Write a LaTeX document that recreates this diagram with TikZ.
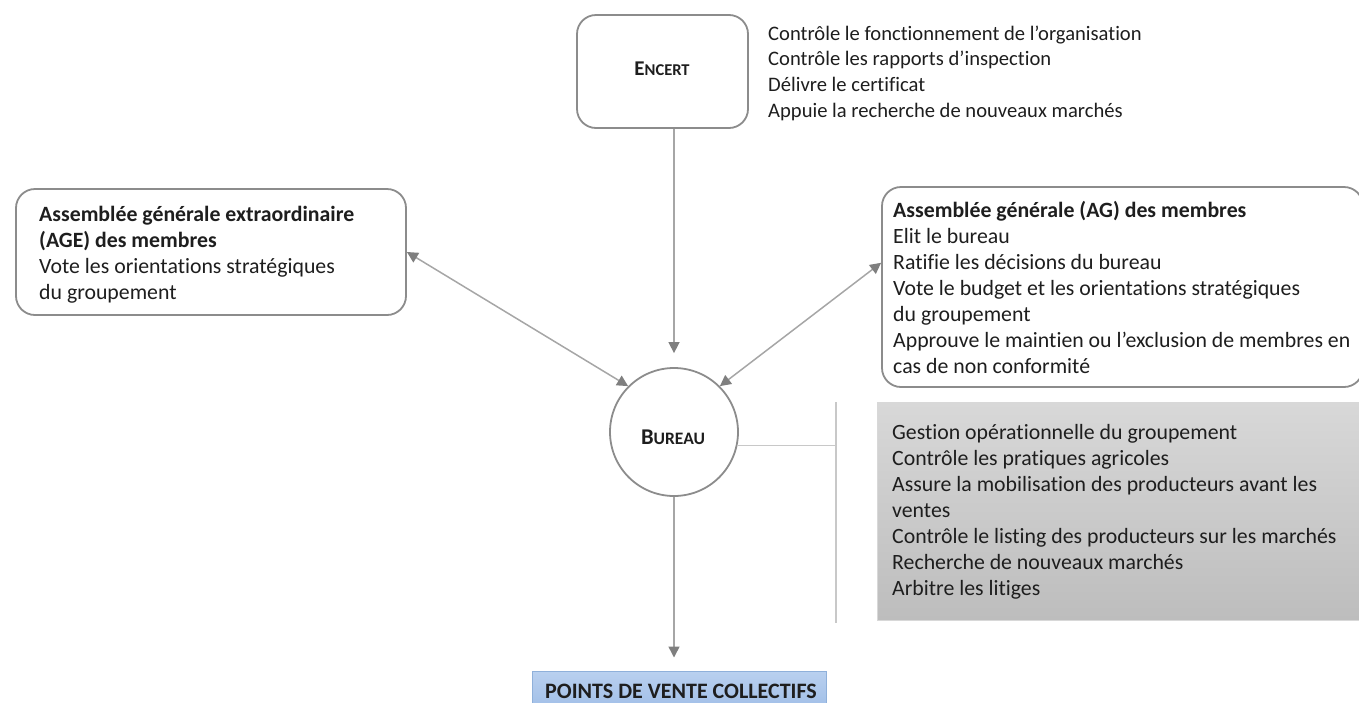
\documentclass[tikz,border=0pt]{standalone}
\usepackage{fontspec}
\setmainfont{Carlito}[Ligatures={NoCommon}]
\usetikzlibrary{arrows.meta,calc}
\definecolor{boxline}{HTML}{8C8C8C}
\definecolor{linegray}{HTML}{A6A6A6}
\definecolor{tipgray}{HTML}{7F7F7F}
\definecolor{sepgray}{HTML}{C8C8C8}
\definecolor{txt}{HTML}{1E1E1E}
\definecolor{graytop}{HTML}{D8D8D8}
\definecolor{graybot}{HTML}{BDBDBD}
\definecolor{bluetop}{HTML}{B9D0EF}
\definecolor{bluebot}{HTML}{9DBCE6}
\definecolor{blueline}{HTML}{8FB0DA}
\begin{document}
\begin{tikzpicture}[x=1pt,y=-1pt,
  rbox/.style={draw=boxline, line width=1.8pt, rounded corners=19pt, fill=white, inner sep=0pt},
  listtext/.style={anchor=north west, inner sep=0pt, align=left, text=txt, font=\fontsize{21.8}{26}\selectfont},
  conn/.style={draw=linegray, line width=1.5pt},
  tipa/.tip={Triangle[length=11pt,width=11pt,color=tipgray]},
  sepline/.style={draw=sepgray, line width=1.5pt}]
\useasboundingbox (0,0) rectangle (1359,702);

% boxes
\node[rbox, minimum width=171pt, minimum height=113pt] (encert) at (662.5,71.5) {};
\node[rbox, minimum width=390pt, minimum height=126pt] (age) at (211,252) {};
\node[rbox, minimum width=481pt, minimum height=200pt] (ag) at (1122.5,287) {};
\node[draw=boxline, line width=1.8pt, circle, fill=white, minimum size=128pt, inner sep=0pt] (bureau) at (674,432) {};
\node[inner sep=0pt, minimum width=488pt, minimum height=218pt, top color=graytop, bottom color=graybot, draw=graytop, line width=0.8pt] (gest) at (1121,511) {};
\node[inner sep=0pt, minimum width=294pt, minimum height=44pt, top color=bluetop, bottom color=bluebot, draw=blueline, line width=1pt] (points) at (679,693) {};

% labels
\node[anchor=base, inner sep=0pt, text=txt] (encertlbl) at (662,75)
  {\bfseries\fontsize{21}{24}\selectfont E\fontsize{16.5}{19}\selectfont NCERT};
\node[anchor=base, inner sep=0pt, text=txt] (bureaulbl) at (673,444)
  {\bfseries\fontsize{22.5}{26}\selectfont B\fontsize{17.5}{20}\selectfont UREAU};
\node[anchor=base, inner sep=0pt, text=txt] (pointslbl) at (681,698)
  {\bfseries\fontsize{22}{26}\selectfont POINTS DE VENTE COLLECTIFS};

\node[listtext, font=\fontsize{20.6}{25.7}\selectfont] (encertlist) at (768,22)
  {\strut Contrôle le fonctionnement de l’organisation\\
   Contrôle les rapports d’inspection\\
   Délivre le certificat\\
   Appuie la recherche de nouveaux marchés};
\node[listtext] (agetext) at (39,202.8)
  {\strut\textbf{Assemblée générale extraordinaire}\\
   \textbf{(AGE) des membres}\\
   Vote les orientations stratégiques\\
   du groupement};
\node[listtext] (agtext) at (893,198.8)
  {\strut\textbf{Assemblée générale (AG) des membres}\\
   Elit le bureau\\
   Ratifie les décisions du bureau\\
   Vote le budget et les orientations stratégiques\\
   du groupement\\
   Approuve le maintien ou l’exclusion de membres en\\
   cas de non conformité};
\node[listtext] (gesttext) at (892,420.8)
  {\strut Gestion opérationnelle du groupement\\
   Contrôle les pratiques agricoles\\
   Assure la mobilisation des producteurs avant les\\
   ventes\\
   Contrôle le listing des producteurs sur les marchés\\
   Recherche de nouveaux marchés\\
   Arbitre les litiges};

% connectors
\coordinate (agP) at ($(ag.north west)!0.38!(ag.south west)$);
\coordinate (vtop) at (836,402);
\coordinate (vbot) at (836,623);

\draw[conn, -{tipa}, shorten >=14pt] (bureau.north |- encert.south) -- (bureau.north);
\draw[conn, {tipa}-{tipa}] (age.east) -- (bureau.135);
\draw[conn, {tipa}-{tipa}] (agP) -- (bureau.45);
\draw[conn, -{tipa}, shorten >=13pt] (bureau.south) -- (bureau.south |- points.north);
\draw[sepline] (vtop) -- (vbot);
\draw[sepline] (bureau.-12) -- (bureau.-12 -| vtop);
\end{tikzpicture}
\end{document}
